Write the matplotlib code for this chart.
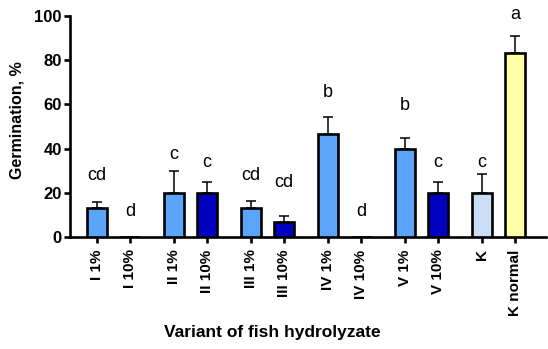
import numpy as np
import matplotlib.pyplot as plt

plt.rcParams['font.family'] = ['Liberation Sans', 'DejaVu Sans']

labels = ['I 1%', 'I 10%', 'II 1%', 'II 10%', 'III 1%', 'III 10%',
          'IV 1%', 'IV 10%', 'V 1%', 'V 10%', 'K', 'K normal']
values = [13.3, 0, 20, 20, 13.3, 6.7, 46.7, 0, 40, 20, 20, 83.3]
errors = [2.7, 0, 10, 5, 3, 3, 7.5, 0, 5, 5, 8.5, 7.5]
letters = ['cd', 'd', 'c', 'c', 'cd', 'cd', 'b', 'd', 'b', 'c', 'c', 'a']
letter_y = [28, 11.5, 37.5, 33.5, 28, 24.6, 65.3, 11.5, 59.3, 33.5, 33.5, 100.5]

light = '#5aa5fa'
dark = '#0000c0'
colors = [light, dark] * 5 + ['#c9ddf7', '#ffffa6']

# pairs side by side, extra gap between groups
x = np.array([g * 7 / 3 + j for g in range(6) for j in range(2)])

fig = plt.figure(figsize=(5.48, 3.49), dpi=100)
ax = fig.add_axes([0.128, 0.321, 0.868, 0.633])

ax.bar(x, values, width=0.6, color=colors, edgecolor='black', linewidth=1.9, zorder=3)
for xi, v, e in zip(x, values, errors):
    if e > 0:
        ax.errorbar(xi, v, yerr=[[0], [e]], fmt='none', ecolor='black',
                    elinewidth=1.1, capsize=3.3, capthick=1.1, zorder=2)

for xi, t, ly in zip(x, letters, letter_y):
    ax.text(xi, ly, t, ha='center', va='center', fontsize=13)

ax.set_xlim(-0.81, 13.6)
ax.set_ylim(0, 100)
ax.set_yticks([0, 20, 40, 60, 80, 100])
ax.set_xticks(x)
ax.set_xticklabels(labels, rotation=90, fontweight='bold', fontsize=11)
for lab in ax.get_yticklabels():
    lab.set_fontweight('bold')
    lab.set_fontsize(12)

for s in ['top', 'right']:
    ax.spines[s].set_visible(False)
for s in ['left', 'bottom']:
    ax.spines[s].set_linewidth(1.9)
ax.tick_params(width=1.9, length=4.5)
ax.tick_params(axis='x', pad=4.5)
ax.tick_params(axis='y', pad=1.5)

ax.set_ylabel('Germination, %', fontweight='bold', fontsize=11.5)
ax.yaxis.set_label_coords(-0.095, 0.53)
ax.set_xlabel('Variant of fish hydrolyzate', fontweight='bold', fontsize=12.5)
ax.xaxis.set_label_coords(0.424, -0.40)

fig.savefig('out.png', dpi=100)
